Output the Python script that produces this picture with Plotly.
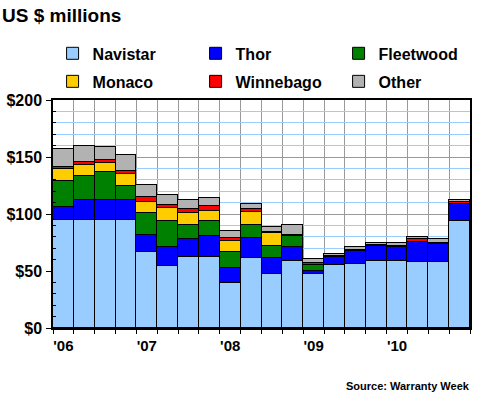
import plotly.graph_objects as go

quarters = list(range(20))
year_ticks = [0, 4, 8, 12, 16]
year_labels = ["'06", "'07", "'08", "'09", "'10"]
y_ticks = [0, 50, 100, 150, 200]
y_labels = ["$0", "$50", "$100", "$150", "$200"]

navistar = [94.4, 94.4, 94.4, 94.4, 66.7, 54.4, 62.0, 62.0, 39.5, 61.1,
            47.4, 58.5, 47.4, 55.3, 56.2, 58.5, 58.5, 57.6, 57.6, 93.8]
thor = [11.7, 17.6, 17.6, 17.6, 14.9, 16.7, 16.1, 19.0, 13.1, 17.8,
        13.7, 12.6, 2.3, 7.0, 11.0, 13.1, 12.6, 17.5, 16.1, 14.8]
fleetwood = [22.8, 21.0, 24.5, 12.3, 19.3, 22.8, 12.3, 12.9, 14.1, 11.5,
             10.8, 9.3, 5.9, 0, 0, 0, 0, 0, 0, 0]
monaco = [10.3, 9.7, 8.2, 10.8, 9.6, 11.4, 10.2, 8.7, 9.3, 11.1,
          11.4, 0, 0, 0, 0, 0, 0, 0, 0, 0]
winnebago = [2.3, 2.9, 2.7, 2.6, 4.4, 2.6, 4.1, 4.4, 2.7, 2.9,
             0.8, 1.0, 1.0, 1.0, 1.0, 1.5, 0.8, 2.7, 1.1, 1.5]
other = [15.2, 14.0, 11.4, 14.1, 10.5, 8.8, 7.9, 7.0, 6.4, 4.4,
         4.8, 9.0, 3.9, 1.9, 3.1, 1.5, 2.7, 2.3, 3.3, 2.5]

series = [
    ("Navistar", navistar, "#99CCFF", "legend"),
    ("Thor", thor, "#0000FF", "legend"),
    ("Fleetwood", fleetwood, "#008000", "legend"),
    ("Monaco", monaco, "#FFCC00", "legend2"),
    ("Winnebago", winnebago, "#FF0000", "legend2"),
    ("Other", other, "#B2B2B2", "legend2"),
]

FONT = "Arial, 'Liberation Sans', sans-serif"

fig = go.Figure()
for name, vals, color, leg in series:
    fig.add_trace(go.Bar(
        x=quarters, y=vals, name=name, legend=leg,
        marker=dict(color=color, line=dict(color="black", width=1)),
    ))

legend_common = dict(
    orientation="h", xanchor="left", yanchor="middle",
    font=dict(family=FONT, size=16, color="black", weight="bold"),
    entrywidth=98, entrywidthmode="pixels", traceorder="normal",
    bgcolor="rgba(0,0,0,0)", itemclick=False,
)

fig.update_layout(
    width=480, height=400,
    margin=dict(l=53, r=10, t=100, b=72, autoexpand=False),
    paper_bgcolor="white", plot_bgcolor="white",
    barmode="stack", bargap=0,
    showlegend=True,
    legend=dict(x=-0.001, y=1.2 + 1 / 228, **legend_common),
    legend2=dict(x=-0.001, y=1.077 + 1 / 228, **legend_common),
    font=dict(family=FONT, color="black"),
    xaxis=dict(
        range=[-0.5, 19.5], tickvals=year_ticks, ticktext=year_labels,
        ticks="", ticklen=0, showgrid=False, zeroline=False, automargin=False,
        showline=True, linecolor="black", linewidth=1.5, mirror=True,
        tickfont=dict(family=FONT, size=15, color="black", weight="bold"),
        ticklabelstandoff=3,
        minor=dict(tickvals=[i - 0.5 for i in range(21)], ticks="outside",
                   ticklen=4, tickcolor="black", showgrid=True,
                   gridcolor="#999999", gridwidth=1),
        fixedrange=True,
    ),
    yaxis=dict(
        range=[0, 200], tickvals=y_ticks, ticktext=y_labels,
        ticks="outside", ticklen=5, tickcolor="black", automargin=False,
        showgrid=True, gridcolor="#999999", gridwidth=1, zeroline=False,
        showline=True, linecolor="black", linewidth=1.5, mirror=True,
        tickfont=dict(family=FONT, size=16, color="black", weight="bold"),
        ticklabelstandoff=1,
        minor=dict(tickvals=[v for v in range(10, 200, 10) if v % 50],
                   ticks="inside", ticklen=3, tickcolor="black",
                   showgrid=True, gridcolor="#99CCFF", gridwidth=1),
        fixedrange=True,
    ),
    annotations=[
        dict(text="US $ millions", xref="paper", yref="paper",
             x=-53 / 417, y=1 + 84 / 228, xanchor="left", yanchor="middle",
             showarrow=False,
             font=dict(family=FONT, size=19, color="black", weight="bold")),
        dict(text="Source: Warranty Week", xref="paper", yref="paper",
             x=1 + 2 / 417, y=-58 / 228, xanchor="right", yanchor="middle",
             showarrow=False,
             font=dict(family=FONT, size=11, color="black", weight="bold")),
    ],
)

fig.write_html(
    "out.html",
    config={"displayModeBar": False},
    post_script="document.body.style.margin='0';document.body.style.padding='0';",
)
